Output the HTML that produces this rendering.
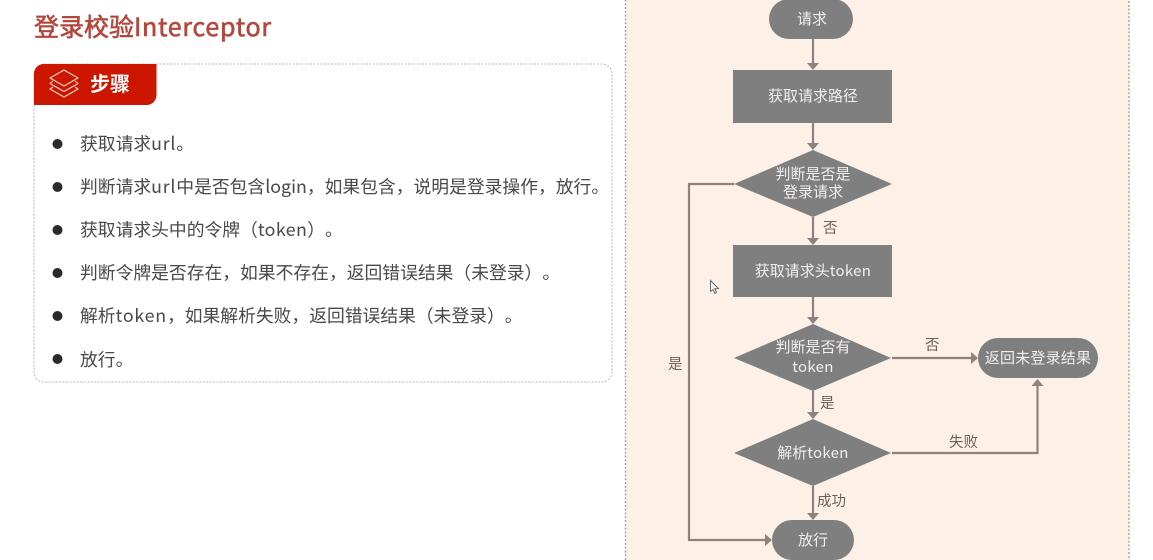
<!DOCTYPE html>
<html lang="zh">
<head>
<meta charset="utf-8">
<style>
html,body{margin:0;padding:0;background:#fff;}
body{width:1153px;height:560px;overflow:hidden;position:relative;}
svg{position:absolute;left:0;top:0;display:block;}
text{font-family:"Noto Sans CJK SC","Liberation Sans",sans-serif;text-spacing-trim:space-all;font-feature-settings:"palt" 0;}
.l{letter-spacing:.8px;}
.n{letter-spacing:.3px;}
</style>
</head>
<body>
<svg width="1153" height="560" viewBox="0 0 1153 560" xmlns="http://www.w3.org/2000/svg">
<defs>
<filter id="b" x="-5%" y="-5%" width="110%" height="110%"><feGaussianBlur stdDeviation="0.35"/></filter>
</defs>
<g filter="url(#b)">
<!-- Title -->
<text x="34" y="36" font-size="25" fill="#b4463c" stroke="#b4463c" stroke-width="0.6">登录校验<tspan letter-spacing="0.72">Interceptor</tspan></text>

<!-- Steps card -->
<rect x="34" y="64" width="578" height="318" rx="10" fill="#fff" stroke="#b5b5b5" stroke-width="1" stroke-dasharray="2 1.5"/>
<path d="M34 105V74a10 10 0 0 1 10-10H156.500V95a10 10 0 0 1-10 10Z" fill="#cc1500"/>
<g fill="none" stroke="#fbd9d0" stroke-width="1.100" stroke-linejoin="round">
<path d="M64 70L78 78L64 86L50 78Z"/>
<path d="M53 81L50 83.500L64 91.500L78 83.500L75 81"/>
<path d="M53 87L50 89L64 97L78 89L75 87"/>
</g>
<text x="90" y="91" font-size="20" font-weight="700" fill="#fff">步骤</text>

<!-- Bullets -->
<g fill="#2b2b2b">
<circle cx="57.500" cy="144" r="5"/>
<circle cx="57.500" cy="187" r="5"/>
<circle cx="57.500" cy="230" r="5"/>
<circle cx="57.500" cy="273" r="5"/>
<circle cx="57.500" cy="316" r="5"/>
<circle cx="57.500" cy="359" r="5"/>
</g>
<g font-size="17.800" fill="#484848">
<text x="80" y="150">获取请求<tspan class="l">url</tspan>。</text>
<text x="80" y="193">判断请求<tspan class="l">url</tspan>中是否包含<tspan>login</tspan>，如果包含，说明是登录操作，放行。</text>
<text x="80" y="236">获取请求头中的令牌（<tspan letter-spacing=".4">token</tspan>）。</text>
<text x="80" y="279">判断令牌是否存在，如果不存在，返回错误结果（未登录）。</text>
<text x="80" y="322">解析<tspan class="l">token</tspan>，如果解析失败，返回错误结果（未登录）。</text>
<text x="80" y="366">放行。</text>
</g>

<!-- Right panel -->
<rect x="625.500" y="-20" width="503.500" height="590" rx="8" fill="#fdf1e7" stroke="#a9a5a1" stroke-width="1.500" stroke-dasharray="2 1.800"/>

<!-- Connector lines -->
<g fill="none" stroke="#8d837c" stroke-width="2.200">
<path d="M813 39V64"/>
<path d="M813 123V144"/>
<path d="M813 217V239"/>
<path d="M813 297V319"/>
<path d="M813 391V414"/>
<path d="M813 486V514"/>
<path d="M734 184H689V540H766"/>
<path d="M892 358H972"/>
<path d="M892 453H1037.500V384"/>
</g>
<!-- Arrowheads -->
<g fill="#8d837c">
<path d="M807 63H819L813 70Z"/>
<path d="M807 143H819L813 150Z"/>
<path d="M807 238H819L813 245Z"/>
<path d="M807 317H819L813 324Z"/>
<path d="M807 412H819L813 419Z"/>
<path d="M807 513H819L813 520Z"/>
<path d="M765 534V546L772 540Z"/>
<path d="M971 352V364L978 358Z"/>
<path d="M1031.500 386H1043.500L1037.500 379Z"/>
</g>

<!-- Nodes -->
<g fill="#7f7f7f">
<rect x="769" y="-1" width="84" height="40" rx="20"/>
<rect x="733" y="70" width="159" height="53"/>
<path d="M734 184L813 150L892 184L813 217Z"/>
<rect x="733" y="245" width="159" height="52"/>
<path d="M734 358L813 324L891 358L813 391Z"/>
<path d="M734 453L813 419L891 453L813 486Z"/>
<rect x="772" y="520" width="82" height="40" rx="20"/>
<rect x="978" y="338" width="120" height="40" rx="20"/>
</g>

<!-- Node labels -->
<g font-size="15" fill="#f1efee" text-anchor="middle">
<text x="812" y="24">请求</text>
<text x="813" y="101">获取请求路径</text>
<text x="813" y="179">判断是否是</text>
<text x="813" y="197">登录请求</text>
<text x="813" y="276">获取请求头<tspan class="n">token</tspan></text>
<text x="813" y="352">判断是否有</text>
<text x="813" y="372"><tspan class="n">token</tspan></text>
<text x="813" y="458">解析<tspan class="n">token</tspan></text>
<text x="813" y="545">放行</text>
<text x="1038" y="363" letter-spacing="0.2">返回未登录结果</text>
</g>

<!-- Edge labels -->
<g font-size="14.500" fill="#6b625b">
<text x="823" y="233">否</text>
<text x="925" y="350">否</text>
<text x="820" y="408">是</text>
<text x="668" y="369">是</text>
<text x="949" y="447">失败</text>
<text x="817" y="506">成功</text>
</g>

<!-- Cursor -->
<path d="M710.500 280.500V291.500L713 289.500L715 293.500L716.500 292.500L714.800 288.700L718.500 288.500Z" fill="#f6f6f6" stroke="#6a6a6a" stroke-width="1"/>
</g>
</svg>
</body>
</html>
